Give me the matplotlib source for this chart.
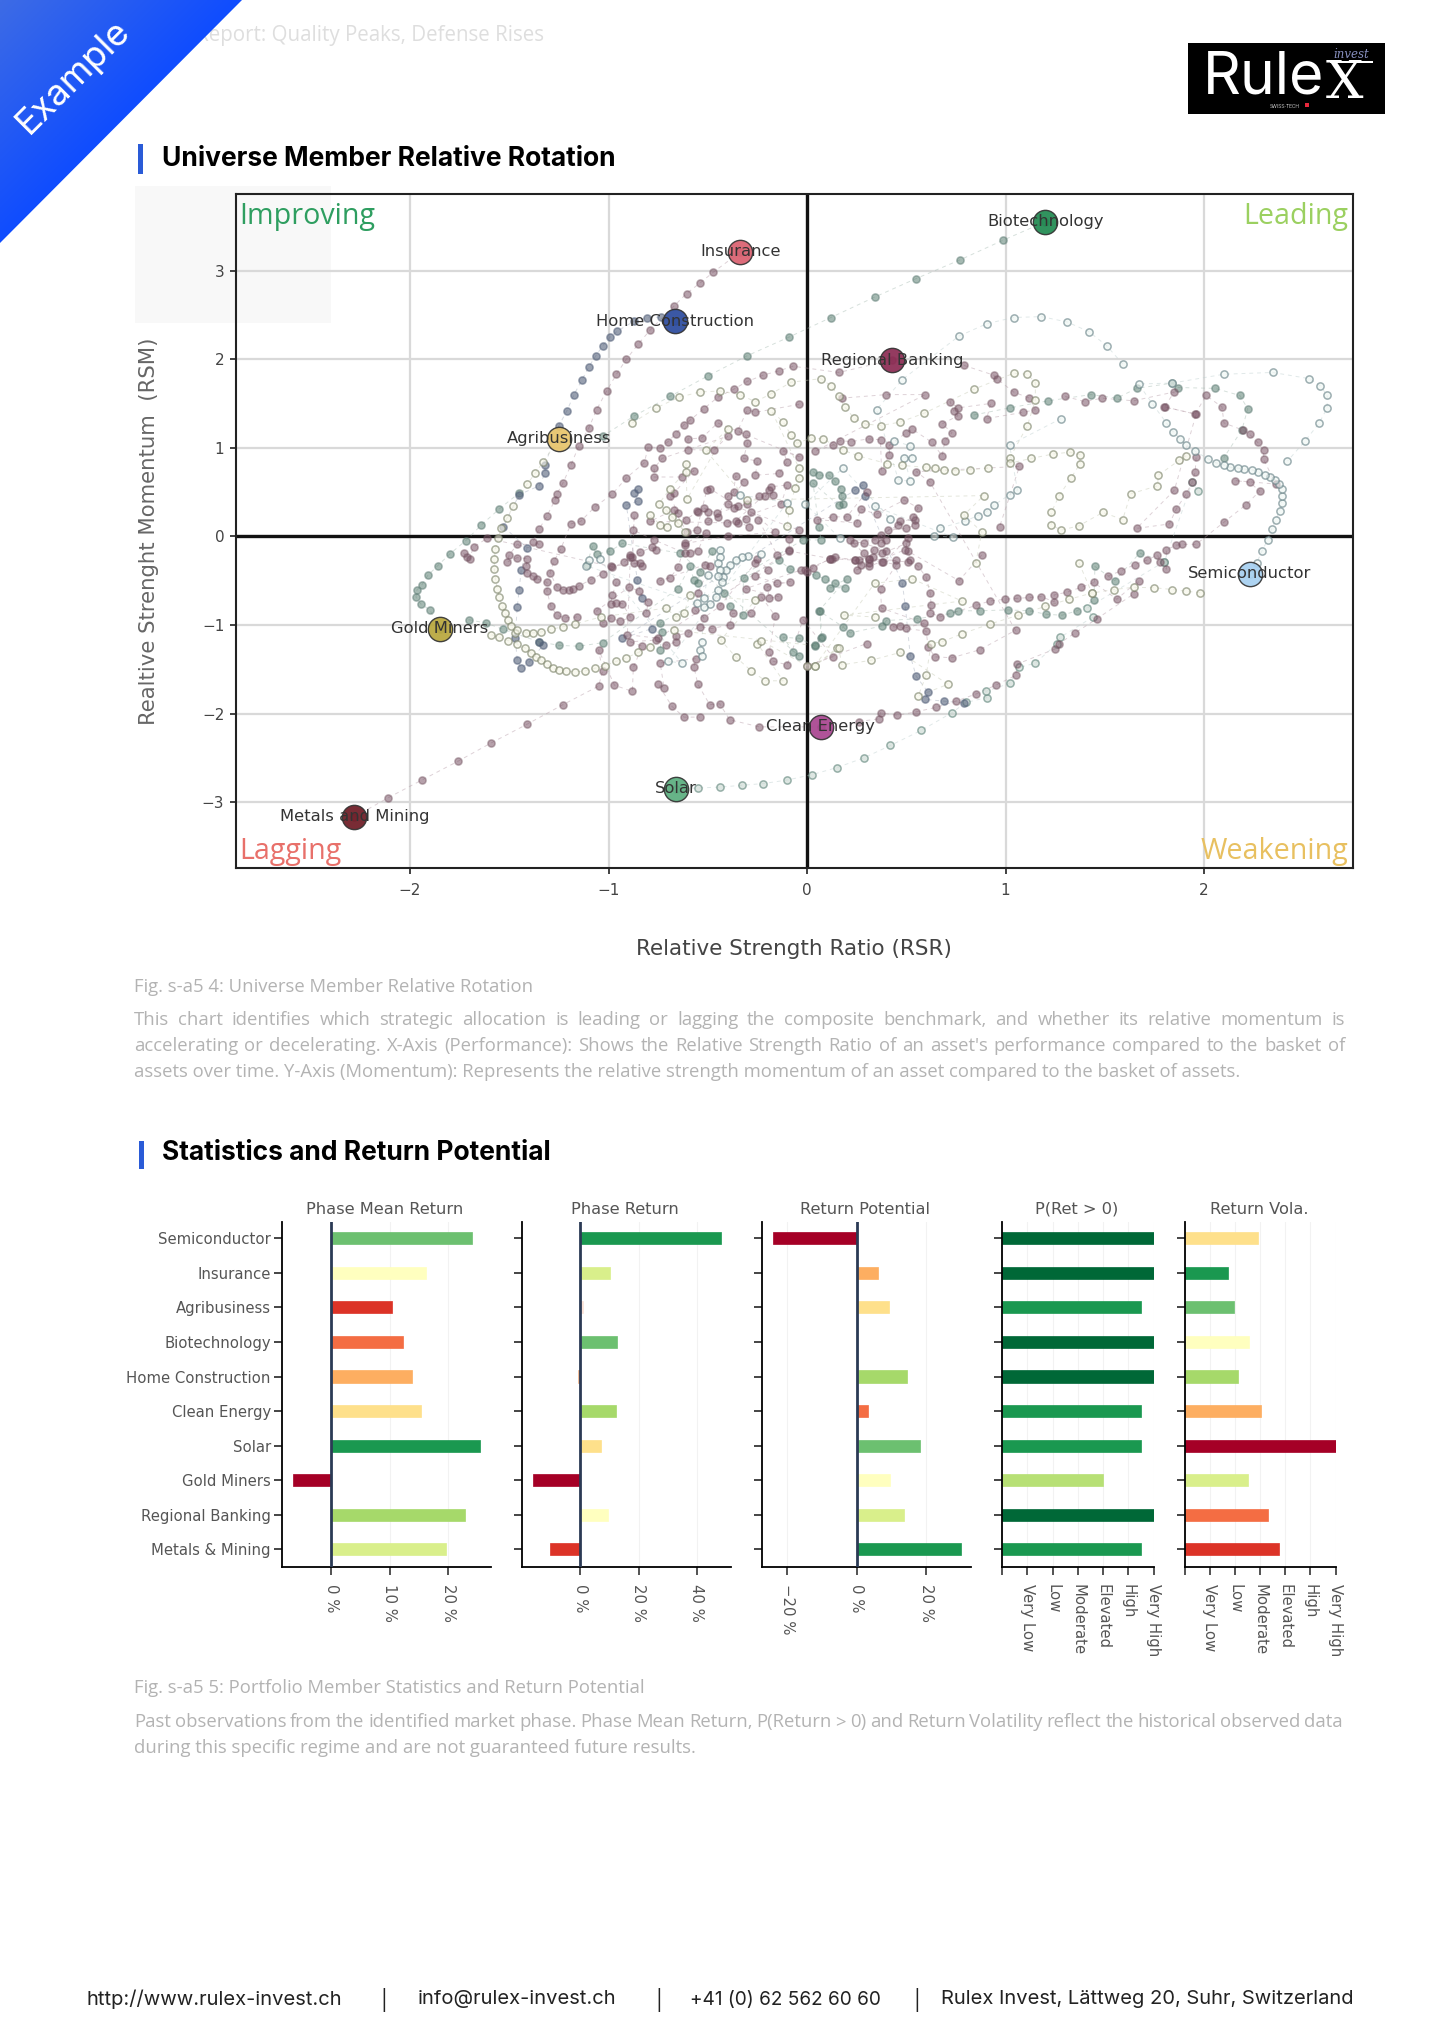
import numpy as np
import matplotlib
matplotlib.use("Agg")
import matplotlib.pyplot as plt
from matplotlib.patches import Rectangle, Polygon

W, H = 1445, 2043

# rotation chart, first point of every trail is the newest one
biotech = [(1.2,3.55),(0.985,3.34),(0.77,3.12),(0.55,2.91),(0.34,2.70),(0.12,2.47),(-0.09,2.25),(-0.30,2.04),(-0.50,1.81),(-0.69,1.58),(-0.87,1.36),(-1.03,1.13)]
gold = [(-1.85,-1.04),(-1.90,-0.83),(-1.947,-0.76),(-1.97,-0.685),(-1.965,-0.605),(-1.94,-0.545),(-1.91,-0.44),(-1.86,-0.33),(-1.80,-0.20),(-1.72,-0.05),(-1.64,0.13),(-1.55,0.31),(-1.45,0.49)]
green_arm = [(-1.705,-0.94),(-1.615,-0.98),(-1.53,-1.05),(-1.35,-1.19),(-1.25,-1.23),(-1.15,-1.24),(-1.03,-1.20),(-0.65,-0.59),(-0.59,-0.34),(-0.57,-0.49),(-0.55,-0.53),(-0.54,-0.40),(-0.48,-0.17),(-0.42,-0.64),(-0.39,-0.79),(-0.325,-0.89),(-0.32,-0.47),(-0.14,-0.27),(-0.085,-0.37),(0.045,-0.44),(0.09,-0.48),(0.14,-0.53),(0.19,-0.58),(0.115,-0.58),(0.20,-0.48),(0.06,-0.84),(0.18,-1.02),(0.217,-1.09),(0.38,-1.01),(0.40,-0.95),(0.555,-0.93),(0.72,-0.87),(0.76,-0.84),(0.87,-0.84),(1.01,-0.83),(1.12,-0.84),(1.205,-0.88),(1.285,-0.89),(1.36,-0.84),(1.445,-0.72),(1.45,-0.34),(1.55,-0.50),(1.675,-0.19),(1.80,-0.285)]
green_top = [(0.84,1.37),(1.02,1.45),(1.215,1.53),(1.43,1.60),(1.56,1.56),(1.66,1.67),(1.84,1.73),(1.87,1.68),(2.056,1.67),(2.18,1.59),(2.22,1.44),(2.19,1.20),(2.10,0.89)]
green_mid = [(-1.11,-0.32),(-1.08,-0.11),(-1.06,-0.20),(-0.995,-0.17),(-0.93,-0.08),(-0.64,-0.19),(-0.04,-1.35),(-0.07,-1.30),(-0.12,-1.14),(-0.04,-1.15),(0.04,-1.24),(0.07,-1.15),(0.065,-0.84),(0.075,-1.14),(0.04,-1.23)]
green_more = [(0.03,0.73),(0.06,0.69),(0.11,0.69),(0.14,0.62),(0.17,0.54),(0.175,0.45),(0.18,0.37),(0.16,0.35),(0.03,0.60),(0.06,0.11),(0.07,-0.04),(-0.02,-0.04),(-0.74,-0.98),(-0.73,-1.08),(-0.74,-1.28)]
solar = [(-0.66,-2.85),(-0.55,-2.84),(-0.44,-2.83),(-0.33,-2.81),(-0.22,-2.79),(-0.10,-2.75),(0.024,-2.69),(0.15,-2.61),(0.286,-2.50),(0.42,-2.36),(0.575,-2.19),(0.73,-1.99),(0.80,-1.875),(0.905,-1.82),(0.90,-1.75),(1.02,-1.66),(1.07,-1.48),(1.15,-1.43),(1.26,-1.21),(1.275,-1.14),(1.44,-0.91),(1.41,-0.81),(1.80,-0.285),(1.94,0.61),(1.97,0.51)]
home = [(-0.665,2.43),(-0.735,2.476),(-0.804,2.466),(-0.873,2.426),(-0.955,2.318),(-0.994,2.245),(-1.029,2.152),(-1.065,2.035),(-1.10,1.91),(-1.135,1.76),(-1.174,1.60),(-1.209,1.42),(-1.25,1.25),(-1.32,0.81),(-1.32,0.71),(-1.35,0.57),(-1.45,0.47),(-1.53,0.11),(-1.41,-0.13),(-1.44,-0.38),(-1.45,-0.60),(-1.46,-0.80),(-1.47,-1.15),(-1.46,-1.39),(-1.44,-1.49),(-1.40,-1.42),(-1.33,-1.23),(-1.35,-1.19)]
home_mid = [(-0.85,0.53),(-0.87,0.49),(-0.85,0.40),(-0.91,0.35),(-0.855,-0.49),(-0.83,-0.70),(-0.78,-1.04),(-0.93,-1.15),(0.24,0.52),(0.28,0.58),(0.29,0.45),(0.48,-0.53),(0.495,-0.79),(0.52,-1.35),(0.55,-1.58),(0.61,-1.76),(0.595,-1.84),(0.69,-1.86),(0.79,-1.88)]
insurance = [(-0.336,3.21),(-0.473,2.98),(-0.539,2.86),(-0.607,2.74),(-0.67,2.60),(-0.79,2.33),(-0.85,2.17),(-0.91,2.00),(-0.96,1.83),(-1.01,1.64),(-1.06,1.43),(-1.10,1.22),(-1.15,1.02),(-1.19,0.80),(-1.23,0.60),(-1.26,0.48),(-1.27,0.41),(-1.31,0.23),(-1.35,0.08),(-1.38,-0.06),(-1.35,-0.09),(-1.46,-0.09),(-1.50,-0.21),(-1.51,-0.29),(-1.46,-0.24),(-1.41,-0.25),(-1.415,-0.34),(-1.41,-0.41),(-1.38,-0.45),(-1.36,-0.48),(-1.31,-0.52),(-1.31,-0.62),(-1.29,-0.79),(-1.26,-0.89),(-1.22,-0.92),(-1.16,-0.91)]
regional = [(0.43,1.99),(0.16,1.85),(-0.07,1.92),(-0.14,1.87),(-0.22,1.82),(-0.30,1.75),(-0.37,1.66),(-0.45,1.57),(-0.52,1.44),(-0.59,1.31),(-0.62,1.26),(-0.66,1.16),(-0.70,1.07),(-0.74,1.00),(-0.80,1.01),(-0.82,0.83),(-0.91,0.66),(-0.98,0.48),(-1.07,0.33),(-1.14,0.17),(-1.19,0.14),(-1.24,-0.14),(-1.275,-0.28),(-1.295,-0.41),(-1.26,-0.57),(-1.23,-0.60),(-1.20,-0.61),(-1.18,-0.59),(-1.15,-0.56),(-1.09,-0.49),(-1.03,-0.42),(-0.98,-0.35),(-0.92,-0.29),(-0.89,-0.23),(-0.84,-0.18),(-0.78,-0.12),(-0.76,-0.15)]
regional_right = [(0.79,1.93),(0.94,1.82),(0.955,1.78),(1.04,1.63),(1.12,1.56),(1.15,1.43),(1.09,1.40),(0.905,1.33),(0.925,1.50),(0.76,1.45),(0.72,1.52),(0.74,1.41),(0.76,1.36),(0.68,1.27),(0.73,1.17),(0.695,1.08),(0.68,0.91),(0.63,1.06),(0.53,1.21),(0.50,1.17),(0.415,1.03),(0.415,0.92),(0.375,0.74),(0.37,1.09),(0.31,1.10),(0.22,1.07),(0.165,1.08),(0.13,1.03),(0.04,0.96),(0.595,1.60),(0.40,1.60),(0.175,1.56)]
plum_top = [(-0.04,1.49),(-0.26,1.40),(-0.30,1.43),(-0.35,1.19),(-0.31,1.15),(-0.30,1.05),(-0.32,0.88),(-0.25,0.85),(-0.26,0.69),(-0.14,0.71),(-0.10,0.84),(-0.12,0.96),(-0.04,0.90),(-0.45,1.28),(-0.53,1.11),(-0.60,1.10),(-0.60,0.98),(-0.47,0.97),(-0.40,1.13),(-0.73,0.88),(-0.77,0.77),(-0.77,0.67),(-0.63,0.67),(-0.57,0.74),(-0.67,0.49),(-0.69,0.45),(-0.65,0.26),(-0.61,0.19),(-0.55,0.28),(-0.50,0.28),(-0.50,0.17),(-0.45,0.22),(-0.40,0.45),(-0.37,0.50),(-0.36,0.68),(-0.32,0.61),(-0.40,0.37),(-0.04,0.07),(-0.09,-0.03),(-0.09,-0.15),(-0.15,-0.21),(-0.245,0.19)]
plum_center = [(-0.17,0.47),(-0.21,0.45),(-0.19,0.52),(-0.36,0.17),(-0.29,0.11),(-0.28,0.28),(-0.16,0.05),(-0.40,0.0),(-0.615,-0.08),(-0.51,0.035),(-0.55,-0.16),(-0.615,-0.19),(-0.77,-0.04),(-0.875,0.07),(-0.87,0.24),(-0.88,-0.23),(-0.84,-0.30),(-0.99,-0.34),(-1.61,-0.02),(-1.68,-0.12),(-1.70,-0.25),(-1.715,-0.23),(-1.73,-0.19)]
plum_low = [(-0.96,-0.52),(-0.98,-0.66),(-0.99,-0.76),(-0.96,-0.75),(-0.93,-0.76),(-0.89,-0.91),(-0.94,-0.96),(-0.99,-0.92),(-1.03,-0.98),(-1.06,-0.84),(-0.895,-0.57),(-0.845,-0.62),(-0.80,-0.74),(-0.81,-0.87)]
plum_more = [(-0.59,-0.19),(-0.615,-0.10),(-0.65,-0.35),(-0.69,-0.47),(-0.74,-0.50),(-0.515,-0.32),(-0.49,-0.34),(-0.55,-0.64),(-0.565,-0.83),(-0.52,-0.92),(-0.44,-0.79),(-0.26,-0.30),(-0.25,-0.25),(-0.195,-0.38),(-0.26,-0.45),(-0.15,-0.53),(-0.085,-0.51),(-0.20,-0.57),(-0.19,-0.70),(-0.145,-0.68),(-0.31,-0.59),(-0.03,-0.38),(0.0,-0.40),(0.115,-0.25),(-0.09,-0.165),(-0.75,-1.15),(-0.905,-1.11),(-0.89,-0.21),(-0.83,-0.34),(-0.87,-0.30)]
plum_more2 = [(-0.556,0.29),(-0.52,0.32),(-0.455,0.26),(-0.37,0.32),(-0.30,0.37),(-0.24,0.45),(-0.18,0.56),(-0.10,0.58),(-0.13,0.37),(-0.405,0.15),(-0.31,0.20),(-0.35,0.15),(-0.79,0.17),(-0.67,0.30),(-0.606,0.05),(-0.556,0.07),(-0.505,0.52),(-0.49,0.54),(-0.35,0.34)]
plum_more3 = [(0.47,0.17),(0.545,0.185),(0.545,0.13),(0.50,0.09),(0.41,0.07),(0.46,0.13),(0.37,-0.08),(0.40,-0.04),(0.217,-0.04),(0.285,-0.19),(0.31,-0.30),(0.26,-0.27),(0.38,-0.19),(0.50,-0.08),(0.51,-0.29),(0.31,-0.25),(0.33,-0.23),(0.24,-0.27),(0.125,-0.25),(-0.01,-0.38),(0.03,-0.36)]
metals = [(-2.28,-3.165),(-2.11,-2.95),(-1.94,-2.75),(-1.76,-2.54),(-1.59,-2.33),(-1.41,-2.12),(-1.23,-1.90),(-1.05,-1.69),(-1.03,-1.52),(-1.05,-1.28),(-0.97,-1.68),(-0.88,-1.75),(-0.875,-1.48),(-0.83,-1.24),(-0.89,-1.19),(-0.76,-1.17),(-0.71,-1.23),(-0.66,-1.19),(-0.66,-1.12),(-0.60,-1.09),(-0.54,-1.02),(-0.48,-1.04),(-0.39,-1.0),(-0.375,-0.87),(-0.28,-0.86),(-0.23,-0.68),(-0.16,-0.90),(-0.19,-1.30),(-0.17,-1.41),(-0.10,-1.45),(-0.02,-0.94),(0.13,-1.36),(0.0,-1.46),(0.30,-1.21)]
clean = [(0.07,-2.15),(-0.24,-2.15),(-0.39,-2.07),(-0.44,-1.89),(-0.49,-1.90),(-0.55,-1.67),(-0.57,-1.47),(-0.56,-1.38),(-0.74,-1.43),(-0.72,-1.71),(-0.75,-1.67),(-0.68,-1.92),(-0.62,-2.04),(-0.54,-2.04)]
plum_lower = [(0.26,-2.09),(0.36,-2.06),(0.37,-1.99),(0.455,-2.02),(0.55,-1.98),(0.65,-1.93),(0.75,-1.86),(0.85,-1.78),(0.95,-1.68),(1.05,-1.57),(1.06,-1.44),(1.25,-1.27),(1.27,-1.21),(1.35,-1.09),(1.46,-0.93),(1.645,-0.65),(1.67,-0.50),(1.56,-0.71),(1.445,-0.52),(1.38,-0.575),(1.31,-0.63),(1.245,-0.66),(1.245,-0.74),(1.18,-0.68),(1.12,-0.69),(1.06,-0.70),(0.995,-0.71),(0.92,-0.73),(0.85,-0.78),(0.67,-0.91),(0.62,-0.86),(0.625,-0.77),(0.62,-0.64),(0.60,-0.46),(0.56,-0.34),(0.52,-0.27),(0.51,-0.17),(0.765,-0.50),(0.88,-0.21)]
plum_loop = [(1.515,-0.45),(1.58,-0.39),(1.65,-0.32),(1.71,-0.27),(1.765,-0.21),(1.78,-0.29),(1.81,-0.37),(1.81,-0.15),(1.86,-0.10),(1.89,-0.09),(1.96,-0.09),(2.10,0.16),(2.21,0.355),(2.28,0.51),(2.23,0.61),(2.155,0.63),(2.36,0.59),(2.30,0.87),(2.30,0.97),(2.27,1.06),(2.23,1.15),(2.195,1.20),(2.10,1.28),(2.09,1.46),(2.01,1.59),(1.955,1.38),(1.805,1.46)]
plum_mid = [(1.30,1.58),(1.40,1.52),(1.485,1.56),(1.645,1.53),(1.85,1.63),(1.80,1.46),(1.96,1.38),(1.85,0.52),(1.66,0.09),(1.825,0.14),(1.86,0.31),(1.91,0.48),(1.94,0.61),(1.955,0.73),(1.96,0.90)]
plum_dense = [(0.30,0.50),(0.20,0.22),(0.13,0.22),(0.05,0.19),(0.25,0.15),(0.27,0.31),(0.35,0.25),(0.49,0.41),(0.56,0.32),(0.535,0.22),(0.37,0.015),(0.34,-0.04),(0.235,-0.08),(0.285,-0.08),(0.40,-0.16),(0.335,-0.15),(0.31,-0.25),(0.24,-0.27),(0.14,-0.23),(0.115,-0.25),(0.45,-0.27),(0.385,-0.29),(0.51,-0.02),(0.495,-0.15),(0.25,-0.38),(0.27,-0.32),(0.31,-0.34),(0.375,-0.285),(0.45,-0.32),(0.37,-0.59),(0.375,-0.81),(0.59,-0.98),(0.50,-1.03),(0.47,-1.01),(0.435,-1.02),(0.60,-1.07),(0.61,-1.25),(0.645,-1.36),(0.73,-1.37),(0.87,-1.28),(1.05,-1.06),(0.62,0.61),(0.55,0.73),(1.07,0.79),(0.97,0.11)]
semi = [(2.23,-0.42),(2.265,-0.30),(2.29,-0.17),(2.32,-0.04),(2.34,0.08),(2.36,0.185),(2.38,0.29),(2.39,0.38),(2.39,0.46),(2.39,0.53),(2.376,0.595),(2.357,0.64),(2.33,0.67),(2.305,0.69),(2.27,0.73),(2.24,0.75),(2.20,0.76),(2.17,0.77),(2.13,0.78),(2.10,0.805),(2.06,0.83),(2.02,0.875),(1.955,0.96),(1.91,1.03),(1.88,1.10),(1.845,1.18),(1.81,1.28),(1.74,1.495),(1.67,1.72),(1.84,1.73),(2.10,1.83),(2.345,1.85),(2.53,1.78),(2.585,1.70),(2.62,1.59),(2.62,1.45),(2.58,1.28),(2.51,1.08),(2.42,0.85)]
dome = [(1.59,1.945),(1.51,2.15),(1.42,2.31),(1.31,2.42),(1.18,2.48),(1.04,2.47),(0.905,2.40),(0.765,2.26),(0.48,1.77),(0.35,1.43),(0.46,0.64),(0.52,0.62),(0.49,0.89),(0.53,0.885),(0.52,1.02),(0.44,1.08)]
teal_mid = [(1.28,1.33),(1.02,1.03),(1.06,0.52),(1.02,0.47),(0.94,0.35),(0.905,0.28),(0.86,0.235),(0.795,0.17),(0.67,0.095),(0.64,0.005),(0.735,-0.01),(0.34,0.34),(0.42,0.20),(0.18,0.77),(-0.01,0.37),(0.165,-0.02)]
teal_curl = [(-0.23,-0.20),(-0.295,-0.22),(-0.33,-0.23),(-0.36,-0.27),(-0.39,-0.32),(-0.41,-0.38),(-0.425,-0.455),(-0.43,-0.52),(-0.45,-0.61),(-0.46,-0.68),(-0.49,-0.76),(-0.52,-0.80),(-0.53,-1.19),(-0.54,-1.28),(-0.53,-1.35)]
teal_curl2 = [(-0.44,-0.15),(-0.44,-0.23),(-0.45,-0.30),(-0.44,-0.38),(-0.45,-0.45),(-0.50,-0.44),(-0.52,-0.70),(-0.555,-0.755),(-1.115,-0.33),(-1.10,-0.27),(-1.045,-0.26),(-0.63,-1.43),(-0.70,-1.41),(-0.10,0.38),(-0.34,0.47)]
agri = [(-1.25,1.10),(-1.33,0.84),(-1.37,0.71),(-1.41,0.59),(-1.48,0.34),(-1.51,0.21),(-1.54,0.10),(-1.555,-0.02),(-1.57,-0.14),(-1.575,-0.26),(-1.575,-0.37),(-1.57,-0.48),(-1.56,-0.59),(-1.55,-0.69),(-1.535,-0.79),(-1.52,-0.87),(-1.505,-0.94),(-1.49,-1.01),(-1.47,-1.09),(-1.46,-1.22),(-1.42,-1.26),(-1.39,-1.32),(-1.365,-1.36),(-1.34,-1.40),(-1.31,-1.44),(-1.28,-1.49),(-1.25,-1.51),(-1.215,-1.52),(-1.17,-1.53),(-1.12,-1.52),(-1.07,-1.49),(-1.02,-1.46),(-0.96,-1.41),(-0.91,-1.37),(-0.85,-1.31),(-0.79,-1.25)]
olive_arm = [(-1.59,-1.11),(-1.55,-1.14),(-1.505,-1.18),(-1.46,-1.06),(-1.415,-1.09),(-1.38,-1.09),(-1.34,-1.08),(-1.29,-1.05),(-1.23,-1.02),(-1.17,-0.99),(-1.04,-0.91),(-0.71,-0.81),(-0.66,-0.91),(-0.62,-0.87),(-0.59,-0.66),(-0.26,-0.72),(-0.435,-1.17),(-0.36,-1.36),(-0.28,-1.52),(-0.21,-1.63),(-0.12,-1.63),(-0.25,-1.21),(-0.23,-1.18),(0.0,-1.46),(0.04,-1.46),(0.15,-1.26),(-0.67,-1.06)]
olive_top = [(-0.88,1.28),(-0.76,1.45),(-0.645,1.57),(-0.54,1.63),(-0.44,1.64),(-0.34,1.60),(-0.26,1.52),(-0.18,1.61),(-0.08,1.74),(0.07,1.78),(0.12,1.70),(0.16,1.58),(0.19,1.46),(0.235,1.34),(0.29,1.27),(0.37,1.25),(0.47,1.29),(0.59,1.39),(0.84,1.66),(1.04,1.84),(1.11,1.83),(1.15,1.735),(1.15,1.54),(1.11,1.25),(1.02,0.88),(1.02,0.825),(1.13,0.88),(1.24,0.93),(1.325,0.95),(1.375,0.92),(1.375,0.82),(1.33,0.66),(1.27,0.46),(1.23,0.27),(1.23,0.13),(1.28,0.07),(1.37,0.12),(1.49,0.27),(1.59,0.19),(1.63,0.48),(1.765,0.57),(1.77,0.69),(1.875,0.86),(1.91,0.91)]
olive_mid = [(0.91,0.77),(0.82,0.75),(0.746,0.74),(0.69,0.75),(0.645,0.77),(0.60,0.78),(0.48,0.80),(0.405,0.82),(0.255,0.91),(0.18,0.975),(0.08,1.10),(0.02,1.11),(-0.05,1.05),(-0.08,1.14),(-0.12,1.29),(-0.18,1.42),(-0.04,0.77),(-0.04,0.66),(-0.06,0.55),(-0.09,0.30),(-0.10,0.12)]
olive_low = [(1.37,-0.30),(1.435,-0.64),(1.32,-0.71),(1.20,-0.79),(1.065,-0.89),(0.92,-0.99),(0.78,-1.10),(0.68,-1.19),(0.625,-1.21),(0.60,-1.57),(0.56,-1.80),(0.71,-1.67),(0.47,-1.31),(0.32,-1.40),(0.175,-1.45),(0.16,-1.26),(0.04,-1.46),(0.34,-0.53),(0.53,-0.48),(0.78,-0.73),(0.185,-0.89),(0.34,-0.91)]
olive_right = [(1.98,-0.635),(1.91,-0.62),(1.84,-0.60),(1.75,-0.58),(1.645,-0.575),(1.545,-0.60),(1.435,-0.64)]
olive_curl = [(-0.79,0.24),(-0.74,0.13),(-0.705,0.11),(-0.68,0.22),(-0.65,0.15),(-0.615,0.05),(-0.71,0.30),(-0.745,0.37),(-0.69,0.54),(-0.61,0.73),(-0.61,0.82),(-0.605,0.42),(-0.40,1.21),(-0.51,0.97),(-0.30,0.41),(0.89,0.46),(0.79,0.24),(0.88,0.05),(0.85,-0.30)]

end_points = {
    "Biotechnology": (biotech[0], "#1f8a50"),
    "Insurance": (insurance[0], "#d9606f"),
    "Home Construction": (home[0], "#2a4a9e"),
    "Regional Banking": (regional[0], "#8b2a52"),
    "Agribusiness": (agri[0], "#e8c46a"),
    "Semiconductor": (semi[0], "#a6d0f0"),
    "Gold Miners": (gold[0], "#b8a63c"),
    "Clean Energy": (clean[0], "#a8448f"),
    "Solar": (solar[0], "#5aae7e"),
    "Metals and Mining": (metals[0], "#6e1a24"),
}

x_ticks_rot = [-2, -1, 0, 1, 2]
y_ticks_rot = [-3, -2, -1, 0, 1, 2, 3]

# statistics panels
members = ["Semiconductor", "Insurance", "Agribusiness", "Biotechnology", "Home Construction",
           "Clean Energy", "Solar", "Gold Miners", "Regional Banking", "Metals & Mining"]
phase_mean = [24.1, 16.2, 10.3, 12.2, 13.7, 15.3, 25.4, -6.6, 22.9, 19.6]
phase_ret = [48.4, 10.1, 1.0, 12.4, -0.8, 12.1, 7.0, -16.3, 9.4, -10.4]
ret_pot = [-24.0, 6.1, 9.4, 0.0, 14.5, 3.2, 18.1, 9.7, 13.5, 29.9]
p_pos = [6, 6, 5.5, 6, 6, 5.5, 5.5, 4, 6, 5.5]
ret_vola = [2.91, 1.73, 1.95, 2.57, 2.13, 3.04, 6, 2.52, 3.31, 3.75]
phase_mean_col = ["#6cc070", "#ffffbf", "#dc3327", "#f46d43", "#fdae61", "#fee08b", "#1a9850", "#a50026", "#a6d96a", "#d9ef8b"]
phase_ret_col = ["#1a9850", "#d9ef8b", "#fbe3d8", "#6cc070", "#f0b58a", "#a6d96a", "#fee08b", "#a50026", "#ffffbf", "#dc3327"]
ret_pot_col = ["#a50026", "#fdae61", "#fee08b", "#f46d43", "#a6d96a", "#f46d43", "#6cc070", "#ffffbf", "#d9ef8b", "#1a9850"]
p_pos_col = ["#006837", "#006837", "#1a9850", "#006837", "#006837", "#1a9850", "#1a9850", "#b7e075", "#006837", "#1a9850"]
ret_vola_col = ["#fee08b", "#1a9850", "#6cc070", "#ffffbf", "#a6d96a", "#fdae61", "#a50026", "#d9ef8b", "#f46d43", "#dc3327"]
levels = ["Very Low", "Low", "Moderate", "Elevated", "High", "Very High"]

fig = plt.figure(figsize=(W / 100, H / 100), dpi=100, facecolor="white")


def px_axes(left, top, right, bottom, **kw):
    return fig.add_axes([left / W, 1 - bottom / H, (right - left) / W, (bottom - top) / H], **kw)


def full_axes(z):
    a = fig.add_axes([0, 0, 1, 1], zorder=z)
    a.set_xlim(0, W)
    a.set_ylim(H, 0)
    a.axis("off")
    a.patch.set_alpha(0)
    return a


bg = full_axes(0)
top = full_axes(5)

# page furniture
bg.add_patch(Rectangle((135, 186), 196, 137, color="#f8f8f8", lw=0))
bg.text(544, 36, "Market Report: Quality Peaks, Defense Rises", family="Open Sans", fontsize=14.8,
        color="#dedede", ha="right", va="center")

# corner ribbon, lighter towards the page corner
ramp = np.linspace(0, 1, 120)
shade = np.clip((ramp[None, :] + ramp[:, None]) / 1.0, 0, 1)
ribbon = np.zeros((120, 120, 3))
ribbon[..., 0] = 0.24 + (0.06 - 0.24) * shade
ribbon[..., 1] = 0.42 + (0.30 - 0.42) * shade
ribbon[..., 2] = 0.90 + (1.00 - 0.90) * shade
im = top.imshow(ribbon, extent=(0, 243, 243, 0), aspect="auto", zorder=1)
clip_tri = Polygon([(0, 0), (242, 0), (0, 243)], transform=top.transData, lw=0, fc="none")
top.add_patch(clip_tri)
im.set_clip_path(clip_tri)
top.set_xlim(0, W)
top.set_ylim(H, 0)
top.text(74, 77, "Example", family="Inter", fontsize=26, color="white", rotation=45,
         ha="center", va="center", rotation_mode="anchor", zorder=2)

bg.add_patch(Rectangle((1188, 42.5), 197, 71, color="black", lw=0))
bg.text(1203, 93.5, "Rule", family="Inter", fontsize=42.5, color="white", ha="left", va="baseline")
bg.text(1326, 98, "X", family="DejaVu Serif", fontsize=38, color="white", ha="left", va="baseline")
bg.add_patch(Rectangle((1330, 61), 43, 1.6, color="white", lw=0))
bg.text(1351, 55, "invest", family="DejaVu Serif", fontsize=8.5, color="#8890c0", ha="center", va="center", style="italic")
bg.text(1285, 106, "SWISS-TECH", family="Roboto", fontsize=3.8, color="#bbbbbb", ha="center", va="center")
bg.add_patch(Rectangle((1305, 103), 4, 4, color="#e8283c", lw=0))

bg.add_patch(Rectangle((138, 143.5), 5, 30.5, color="#2a5bd7", lw=0))
bg.text(162, 158.5, "Universe Member Relative Rotation", family="Inter", weight="bold", fontsize=19,
        color="black", ha="left", va="center")
bg.add_patch(Rectangle((139, 1141), 5, 28, color="#2a5bd7", lw=0))
bg.text(161.5, 1153, "Statistics and Return Potential", family="Inter", weight="bold", fontsize=19,
        color="black", ha="left", va="center")

# rotation chart
ax = px_axes(235.5, 194, 1353, 868)
ax.set_facecolor("none")
ax.set_zorder(2)
ax.set_xlim(-2.879, 2.75)
ax.set_ylim(-3.743, 3.864)
ax.grid(True, color="#d9d9d9", lw=1.6)
ax.set_axisbelow(True)
ax.axhline(0, color="#111111", lw=2.4, zorder=1.5)
ax.axvline(0, color="#111111", lw=2.4, zorder=1.5)
for s in ax.spines.values():
    s.set_linewidth(1.5)
    s.set_color("#222222")
ax.set_xticks(x_ticks_rot)
ax.set_yticks(y_ticks_rot)
ax.set_xticklabels([str(v).replace("-", "\u2212") for v in x_ticks_rot])
ax.set_yticklabels([str(v).replace("-", "\u2212") for v in y_ticks_rot])
ax.tick_params(length=4, width=1.3, color="#333333", labelsize=11, labelcolor="#444444", pad=4)
ax.tick_params(axis="x", pad=7)

styles = {
    "plum": dict(mfc=(0.48, 0.33, 0.40, 0.55), mec=(0.45, 0.33, 0.38, 0.45), lc="#b59aa6"),
    "green": dict(mfc=(0.36, 0.50, 0.45, 0.55), mec=(0.36, 0.48, 0.45, 0.5), lc="#a4bab0"),
    "blue": dict(mfc=(0.33, 0.38, 0.48, 0.6), mec=(0.33, 0.38, 0.48, 0.55), lc="#a4adbc"),
    "olive": dict(mfc=(0.96, 0.96, 0.90, 0.6), mec=(0.50, 0.53, 0.43, 0.65), lc="#c4c8b2"),
    "teal": dict(mfc=(0.93, 0.96, 0.95, 0.6), mec=(0.42, 0.52, 0.54, 0.65), lc="#bccece"),
    "sage": dict(mfc=(0.78, 0.84, 0.81, 0.6), mec=(0.40, 0.54, 0.50, 0.65), lc="#bccece"),
}
trails = [(biotech, "green"), (gold, "green"), (green_arm, "green"), (green_top, "green"), (green_mid, "green"),
          (green_more, "green"), (solar, "sage"), (home, "blue"), (home_mid, "blue"), (insurance, "plum"),
          (regional, "plum"), (regional_right, "plum"), (plum_top, "plum"), (plum_center, "plum"),
          (plum_low, "plum"), (plum_more, "plum"), (plum_more2, "plum"), (plum_more3, "plum"),
          (metals, "plum"), (clean, "plum"), (plum_lower, "plum"), (plum_loop, "plum"), (plum_mid, "plum"),
          (plum_dense, "plum"), (semi, "teal"), (dome, "teal"), (teal_mid, "teal"), (teal_curl, "teal"),
          (teal_curl2, "teal"), (agri, "olive"), (olive_arm, "olive"), (olive_top, "olive"), (olive_mid, "olive"),
          (olive_low, "olive"), (olive_right, "olive"), (olive_curl, "olive")]
for pts, st in trails:
    xs, ys = zip(*pts)
    sty = styles[st]
    ax.plot(xs, ys, color=sty["lc"], lw=0.7, ls=(0, (4, 4)), alpha=0.45, zorder=2)
    ax.plot(xs, ys, ls="none", marker="o", ms=5.2, mfc=sty["mfc"], mec=sty["mec"], mew=1.1, zorder=3)

for name, (pt, col) in end_points.items():
    ax.plot(pt[0], pt[1], marker="o", ms=17.5, mfc=col, mec="#333333", mew=1.0, alpha=0.92, zorder=4)
    ax.text(pt[0], pt[1], name, fontsize=11.8, color="#333333", ha="center", va="center", zorder=5)

ax.text(0.003, 0.967, "Improving", transform=ax.transAxes, family="Open Sans", fontsize=20.6, color="#2e9e60", ha="left", va="center")
ax.text(0.996, 0.967, "Leading", transform=ax.transAxes, family="Open Sans", fontsize=20.6, color="#9bd060", ha="right", va="center")
ax.text(0.003, 0.025, "Lagging", transform=ax.transAxes, family="Open Sans", fontsize=20.6, color="#e8706a", ha="left", va="center")
ax.text(0.996, 0.025, "Weakening", transform=ax.transAxes, family="Open Sans", fontsize=20.6, color="#e8c060", ha="right", va="center")

bg.text(794, 949, "Relative Strength Ratio (RSR)", fontsize=15.5, color="#444444", ha="center", va="center")
bg.text(149, 531, "Realtive Strenght Momentum  (RSM)", fontsize=15.3, color="#666666", rotation=90, ha="center", va="center")

# captions
cap = "#b3b3b3"
cap_size = 13.3
fig.canvas.draw()
rend = fig.canvas.get_renderer()


def justified(line, y, left=134, right=1345, size=cap_size):
    words = line.split(" ")
    items = [bg.text(0, y, w, family="Open Sans", fontsize=size, color=cap, va="center", ha="left") for w in words]
    widths = [t.get_window_extent(rend).width for t in items]
    gap = (right - left - sum(widths)) / (len(words) - 1)
    pos = left
    for t, wd in zip(items, widths):
        t.set_x(pos)
        pos += wd + gap


bg.text(134, 987, "Fig. s-a5 4: Universe Member Relative Rotation", family="Open Sans", fontsize=cap_size, color=cap, va="center")
justified("This chart identifies which strategic allocation is leading or lagging the composite benchmark, and whether its relative momentum is", 1020)
justified("accelerating or decelerating. X-Axis (Performance): Shows the Relative Strength Ratio of an asset's performance compared to the basket of", 1046)
bg.text(134, 1072, "assets over time. Y-Axis (Momentum): Represents the relative strength momentum of an asset compared to the basket of assets.",
        family="Open Sans", fontsize=cap_size, color=cap, va="center")
bg.text(134, 1688, "Fig. s-a5 5: Portfolio Member Statistics and Return Potential", family="Open Sans", fontsize=cap_size, color=cap, va="center")
justified("Past observations from the identified market phase. Phase Mean Return, P(Return > 0) and Return Volatility reflect the historical observed data", 1722, right=1343)
bg.text(134, 1748, "during this specific regime and are not guaranteed future results.", family="Open Sans", fontsize=cap_size, color=cap, va="center")

# footer
for txt, xp, fs in [("http://www.rulex-invest.ch", 87, 14.5), ("|", 380, 14.5), ("info@rulex-invest.ch", 418, 14.5), ("|", 655, 14.5),
                    ("+41 (0) 62 562 60 60", 690, 13.7), ("|", 913, 14.5), ("Rulex Invest, Lättweg 20, Suhr, Switzerland", 941, 14.5)]:
    bg.text(xp, 1999.5, txt, family="Inter", fontsize=fs, color="#222222", va="center", ha="left")

# statistics panels
panels = [
    ("Phase Mean Return", phase_mean, phase_mean_col, (281.6, 490.6), (-8.5, 27.2), [0, 10, 20], None),
    ("Phase Return", phase_ret, phase_ret_col, (521.6, 731), (-20.2, 51.7), [0, 20, 40], None),
    ("Return Potential", ret_pot, ret_pot_col, (762, 971), (-27.2, 32.9), [-20, 0, 20], None),
    ("P(Ret > 0)", p_pos, p_pos_col, (1002, 1153.6), (0, 6), [0, 1, 2, 3, 4, 5, 6], levels),
    ("Return Vola.", ret_vola, ret_vola_col, (1184.8, 1335.5), (0, 6), [0, 1, 2, 3, 4, 5, 6], levels),
]
for i, (title, vals, cols, (pl, pr), xlim, ticks, names) in enumerate(panels):
    a = px_axes(pl, 1221.7, pr, 1567.3)
    a.set_zorder(2)
    a.set_facecolor("none")
    a.set_xlim(*xlim)
    a.set_ylim(9.52, -0.48)
    a.barh(range(len(members)), vals, height=0.35, color=cols, edgecolor=cols, lw=0.5, zorder=2)
    a.spines["top"].set_visible(False)
    a.spines["right"].set_visible(False)
    a.spines["left"].set_linewidth(1.3)
    a.spines["bottom"].set_linewidth(1.3)
    a.xaxis.grid(True, color="#f2f2f2", lw=0.8)
    a.set_axisbelow(True)
    a.set_yticks(range(len(members)))
    a.set_yticklabels(members if i == 0 else [])
    a.tick_params(axis="y", length=5.8, width=1.4, color="#444444", labelsize=10.7, labelcolor="#555555", pad=2)
    a.set_xticks(ticks)
    if names:
        a.set_xticklabels([""] + names, rotation=-90)
    else:
        a.axvline(0, color="#2b3a55", lw=2, zorder=3)
        a.set_xticklabels([f"{t} %".replace("-", "\u2212") for t in ticks], rotation=-90)
    a.tick_params(axis="x", length=5.8, width=1.3, color="#444444", labelsize=10.7, labelcolor="#555555", pad=6)
    bg.text((pl + pr) / 2 - 1, 1209.5, title, fontsize=11.7, color="#555555", ha="center", va="center")

fig.savefig("out.png", dpi=100)
